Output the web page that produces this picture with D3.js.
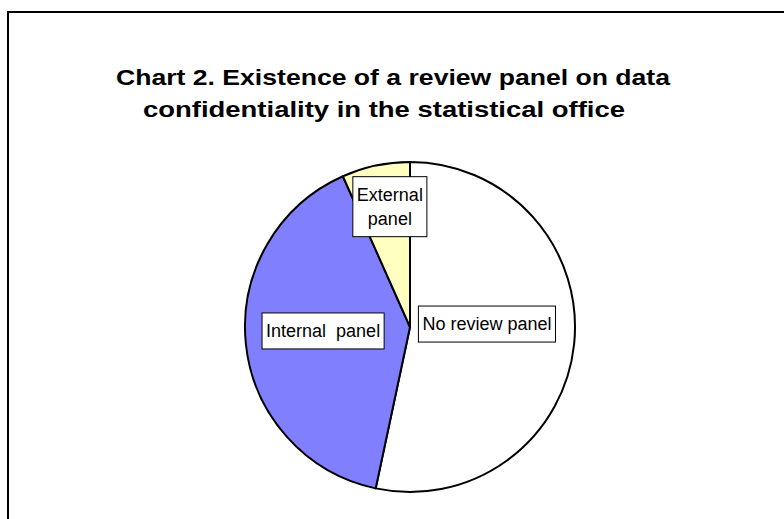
<!DOCTYPE html>
<html>
<head>
<meta charset="utf-8">
<script src="https://cdn.jsdelivr.net/npm/d3@7"></script>
<style>
  body { margin: 0; background: #fff; }
  text { font-family: "Liberation Sans", Arial, sans-serif; white-space: pre; }
</style>
</head>
<body>
<div id="chart"></div>
<script>
const WIDTH = 784;
const HEIGHT = 519;
const CX = 410;
const CY = 327;
const RADIUS = 165;

const TITLE_LINES = ["Chart 2. Existence of a review panel on data", "confidentiality in the statistical office"];
const CATEGORIES = ["No review panel", "Internal  panel", "External panel"];
const LABEL_LINES = [["No review panel"], ["Internal  panel"], ["External", "panel"]];
const VALUES = [16, 12, 2];
const COLORS = ["#FFFFFF", "#8080FF", "#FFFFC0"];

// label placement: distance from centre and angle nudge (deg) from the slice middle
const LABEL_DIST = [77, 87, 122];
const LABEL_NUDGE = [-8.2, 3.4, 2.5];

// title line layout (centre x, baseline y, stretched width)
const TITLE_X = [393, 384];
const TITLE_Y = [85, 117];
const TITLE_W = [554, 482];

var svg = d3.select("#chart")
  .append("svg")
  .attr("width", WIDTH)
  .attr("height", HEIGHT);

svg.append("rect")
  .attr("x", 8)
  .attr("y", 12)
  .attr("width", WIDTH)
  .attr("height", HEIGHT)
  .attr("fill", "#fff")
  .attr("stroke", "#000")
  .attr("stroke-width", 2);

TITLE_LINES.forEach((t, i) => {
  svg.append("text")
    .attr("x", TITLE_X[i] - TITLE_W[i] / 2)
    .attr("y", TITLE_Y[i])
    .attr("font-size", 22)
    .attr("font-weight", "bold")
    .attr("fill", "#000")
    .attr("textLength", TITLE_W[i])
    .attr("lengthAdjust", "spacingAndGlyphs")
    .text(t);
});

var pie = d3.pie().sort(null).value(d => d);
var arcs = pie(VALUES);

var arc = d3.arc()
  .innerRadius(0)
  .outerRadius(RADIUS);

var g = svg.append("g")
  .attr("transform", `translate(${CX}, ${CY})`);

g.selectAll("path.slice")
  .data(arcs)
  .enter()
  .append("path")
  .attr("class", "slice")
  .attr("d", arc)
  .attr("fill", (d, i) => COLORS[i])
  .attr("stroke", "#000")
  .attr("stroke-width", 2)
  .attr("stroke-linejoin", "round");

var labels = g.selectAll("g.label")
  .data(arcs)
  .enter()
  .append("g")
  .attr("class", "label")
  .attr("transform", (d, i) => {
    var a = (d.startAngle + d.endAngle) / 2 + LABEL_NUDGE[i] * Math.PI / 180;
    var x = Math.sin(a) * LABEL_DIST[i];
    var y = -Math.cos(a) * LABEL_DIST[i];
    return `translate(${x}, ${y})`;
  });

labels.each(function(d, i) {
  var lab = d3.select(this);
  var lines = LABEL_LINES[i];
  var lineH = 24;
  var box = lab.append("rect")
    .attr("fill", "#fff")
    .attr("stroke", "#000")
    .attr("stroke-width", 1);
  var txt = lab.append("text")
    .attr("text-anchor", "middle")
    .attr("font-size", 18)
    .attr("fill", "#000");
  lines.forEach((l, j) => {
    txt.append("tspan")
      .attr("x", 0)
      .attr("y", (j - (lines.length - 1) / 2) * lineH + 6)
      .text(l);
  });
  var bb = txt.node().getBBox();
  var w = bb.width + 8;
  var h = lines.length * lineH + 12;
  box.attr("x", -w / 2)
    .attr("y", -h / 2)
    .attr("width", w)
    .attr("height", h);
});
</script>
</body>
</html>
